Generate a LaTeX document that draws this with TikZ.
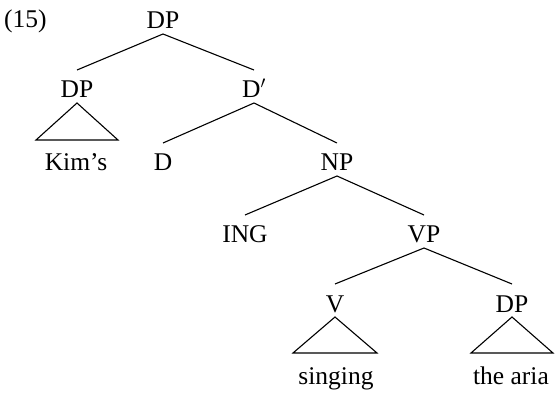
\documentclass[tikz,border=0pt]{standalone}
\usepackage{fontspec}
\setmainfont{Liberation Serif}
\begin{document}
\begin{tikzpicture}[x=1pt,y=-1pt,
  cat/.style={anchor=base,inner sep=0pt,outer sep=0pt,text height=28pt,text depth=5pt,font=\fontsize{25.5}{30}\selectfont},
  leaf/.style={anchor=base,inner sep=0pt,font=\fontsize{25.5}{30}\selectfont},
  edge/.style={line width=1.1pt}]
\useasboundingbox (0,0) rectangle (558,396);
\node[leaf,anchor=base west] (num) at (4,28) {(15)};
\node[cat] (top) at (163,29) {DP};
\node[cat] (dp1) at (77,98) {DP};
\node[cat] (dbar) at (254,98) {D$'$};
\node[leaf] (kim) at (76,171) {Kim's};
\node[cat] (d) at (163,171) {D};
\node[cat] (np) at (337,171) {NP};
\node[cat] (ing) at (245,243) {ING};
\node[cat] (vp) at (424,243) {VP};
\node[cat] (v) at (335,312) {V};
\node[cat] (dp2) at (512,312) {DP};
\node[leaf] (sing) at (336,384) {singing};
\node[leaf] (aria) at (511,384) {the aria};
\draw[edge] (top.south) -- (dp1.north);
\draw[edge] (top.south) -- (dbar.north);
\draw[edge] (dbar.south) -- (d.north);
\draw[edge] (dbar.south) -- (np.north);
\draw[edge] (np.south) -- (ing.north);
\draw[edge] (np.south) -- (vp.north);
\draw[edge] (vp.south) -- (v.north);
\draw[edge] (vp.south) -- (dp2.north);
\draw[edge] (dp1.south) -- ++(-41,37) -- ++(82,0) -- cycle;
\draw[edge] (v.south) -- ++(-42,36) -- ++(84,0) -- cycle;
\draw[edge] (dp2.south) -- ++(-41,36) -- ++(82,0) -- cycle;
\end{tikzpicture}
\end{document}
